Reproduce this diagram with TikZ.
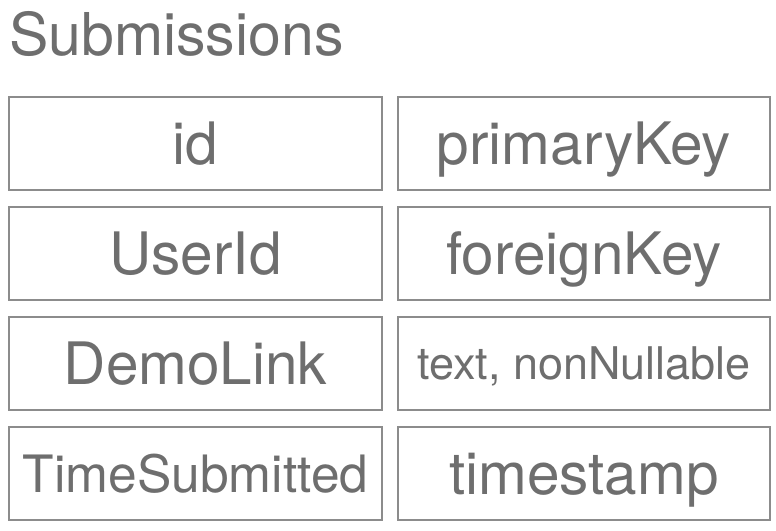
\documentclass[tikz,border=0pt]{standalone}
\usepackage{fontspec}
\setmainfont{TeX Gyre Heros}
\definecolor{textgray}{HTML}{6E6E6E}
\definecolor{bordergray}{HTML}{8C8C8C}
\begin{document}
\begin{tikzpicture}[x=1pt,y=-1pt,
  cell/.style={draw=bordergray, line width=1.4pt, inner sep=0pt,
    minimum height=93pt, text=textgray,
    font=\fontsize{58.5}{60}\selectfont, text height=42pt, text depth=0pt},
  leftcell/.style={cell, minimum width=373pt},
  rightcell/.style={cell, minimum width=372pt},
  midfont/.style={font=\fontsize{51.5}{54}\selectfont, text height=37pt},
  smallfont/.style={font=\fontsize{45}{48}\selectfont, text height=32.3pt},
  titlestyle/.style={text=textgray, inner sep=0pt, anchor=base west,
    font=\fontsize{59}{60}\selectfont}]
\useasboundingbox (0,0) rectangle (776,530);
\node[titlestyle] (title) at (9,55) {Submissions};
\node[leftcell]  (k1) at (195.5,143.5) {id};
\node[rightcell] (v1) at (584,143.5) {primaryKey};
\node[leftcell]  (k2) at (195.5,253.5) {UserId};
\node[rightcell] (v2) at (584,253.5) {foreignKey};
\node[leftcell]  (k3) at (195.5,363.5) {DemoLink};
\node[rightcell,smallfont] (v3) at (584,363.5) {text, nonNullable};
\node[leftcell,midfont]  (k4) at (195.5,473.5) {TimeSubmitted};
\node[rightcell] (v4) at (584,473.5) {timestamp};
\end{tikzpicture}
\end{document}
